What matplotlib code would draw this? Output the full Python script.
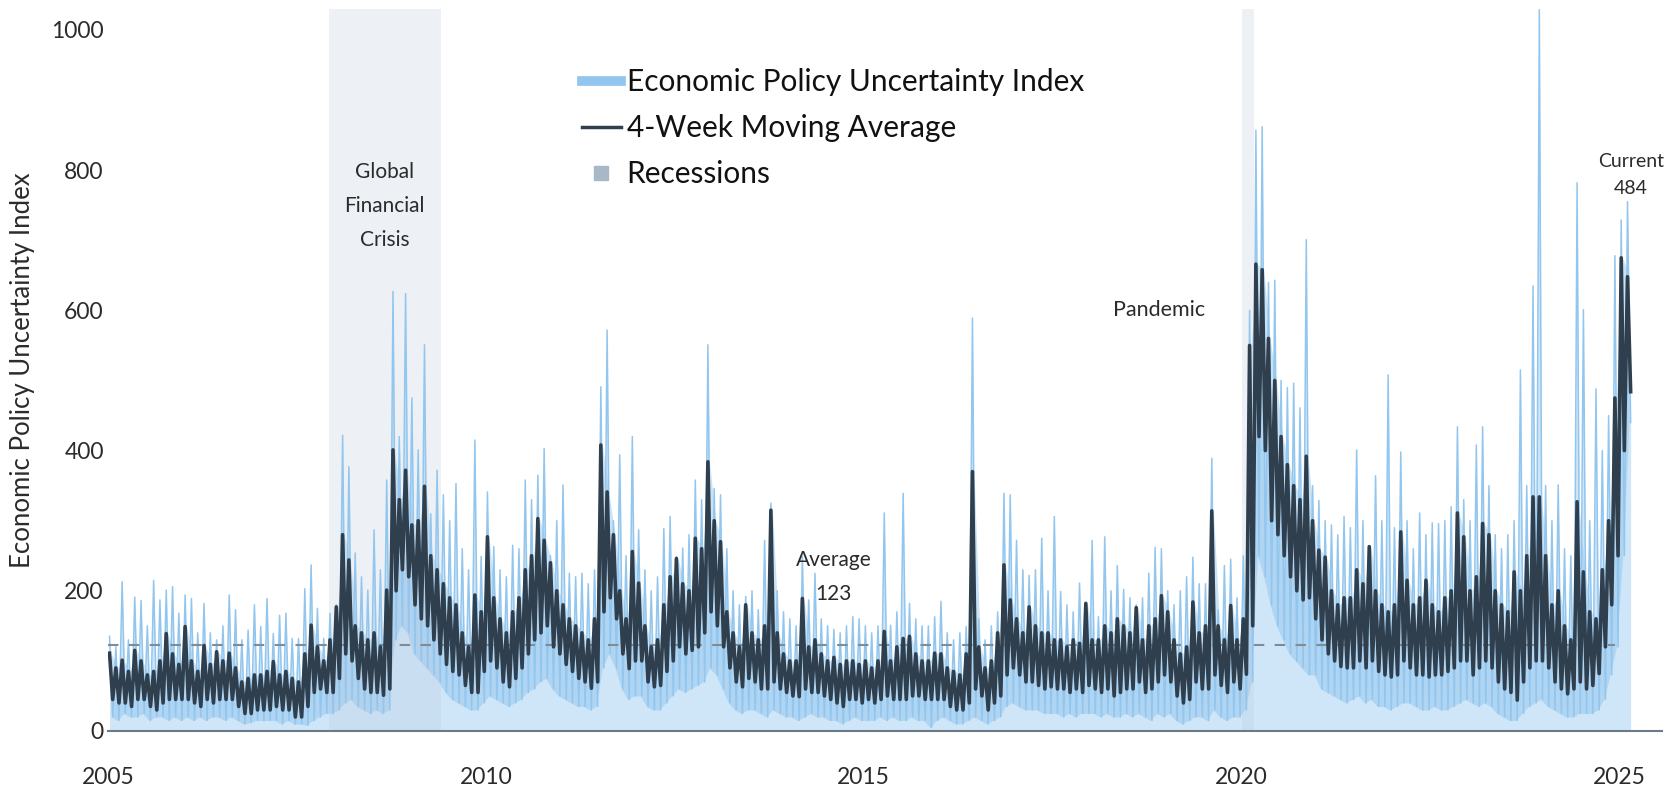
import numpy as np
import matplotlib.pyplot as plt
from matplotlib.lines import Line2D

plt.rcParams['font.family'] = ['Lato', 'DejaVu Sans']

start_year = 2005

# daily index, monthly high / low (Jan 2005 onward)
epu_high = [
    135, 120, 213, 130, 191, 186, 150, 215, 187, 201, 206, 168,  # 2005
    194, 189, 140, 182, 140, 130, 150, 194, 173, 130, 144, 180,  # 2006
    149, 189, 139, 165, 168, 132, 132, 203, 237, 175, 132, 168,  # 2007
    180, 422, 377, 254, 220, 201, 287, 230, 358, 627, 420, 624,  # 2008
    475, 401, 551, 310, 372, 337, 300, 353, 260, 230, 415, 249,  # 2009
    341, 263, 230, 220, 265, 260, 358, 330, 365, 403, 250, 300,  # 2010
    351, 225, 220, 225, 210, 230, 491, 572, 300, 394, 250, 420,  # 2011
    287, 230, 200, 220, 289, 306, 249, 261, 280, 358, 330, 551,  # 2012
    346, 337, 260, 200, 180, 192, 200, 173, 272, 325, 200, 170,  # 2013
    160, 150, 249, 187, 225, 160, 150, 145, 140, 150, 163, 160,  # 2014
    150, 140, 150, 311, 151, 170, 339, 182, 160, 150, 150, 163,  # 2015
    185, 140, 130, 140, 149, 589, 160, 130, 150, 170, 339, 337,  # 2016
    272, 230, 222, 230, 275, 200, 306, 199, 180, 170, 211, 180,  # 2017
    272, 163, 277, 200, 236, 202, 190, 180, 190, 225, 262, 260,  # 2018
    200, 180, 200, 220, 248, 210, 210, 389, 173, 236, 245, 190,  # 2019
    250, 600, 857, 862, 640, 643, 500, 490, 496, 461, 701, 350,  # 2020
    329, 300, 294, 280, 306, 290, 401, 300, 250, 364, 300, 508,  # 2021
    290, 398, 300, 260, 311, 280, 297, 296, 300, 320, 434, 330,  # 2022
    300, 408, 434, 350, 280, 260, 280, 300, 515, 350, 635, 1029,  # 2023
    350, 300, 351, 260, 250, 782, 601, 300, 488, 400, 450, 678,  # 2024
    729, 755,                                                    # 2025
]
epu_low = [
    20, 15, 25, 20, 20, 25, 15, 20, 20, 15, 20, 15,
    20, 15, 20, 15, 20, 20, 15, 20, 15, 10, 12, 15,
    15, 15, 15, 10, 15, 10, 10, 8, 15, 20, 25, 25,
    30, 40, 45, 35, 30, 25, 30, 25, 30, 130, 150, 140,
    110, 100, 90, 80, 70, 55, 45, 40, 35, 30, 30, 40,
    50, 45, 40, 35, 40, 45, 55, 60, 70, 75, 60, 50,
    45, 40, 35, 35, 30, 35, 90, 110, 90, 60, 45, 50,
    50, 35, 30, 30, 40, 50, 60, 55, 60, 65, 70, 90,
    80, 60, 40, 30, 25, 30, 30, 25, 20, 30, 25, 20,
    20, 15, 20, 25, 20, 20, 15, 15, 10, 15, 20, 15,
    15, 15, 20, 15, 20, 15, 15, 20, 15, 15, 5, 15,
    20, 15, 10, 10, 15, 20, 15, 10, 15, 20, 35, 40,
    35, 30, 30, 30, 25, 25, 25, 20, 25, 20, 25, 25,
    25, 20, 25, 20, 20, 25, 20, 25, 20, 15, 25, 20,
    25, 15, 10, 15, 20, 20, 15, 30, 20, 15, 20, 20,
    30, 70, 250, 220, 180, 150, 130, 110, 100, 90, 80, 80,
    60, 55, 50, 45, 40, 45, 50, 40, 45, 35, 35, 30,
    35, 40, 40, 35, 30, 30, 35, 30, 30, 35, 40, 45,
    40, 35, 40, 35, 25, 20, 15, 15, 25, 35, 40, 45,
    35, 30, 25, 20, 20, 25, 25, 25, 30, 45, 80, 120,
    250, 440,
]

# 4-week moving average, monthly high / low
ma_high = [
    111, 90, 101, 85, 115, 100, 80, 85, 100, 139, 110, 95,
    149, 100, 85, 122, 95, 113, 100, 111, 90, 70, 75, 80,
    80, 85, 99, 80, 85, 75, 70, 110, 151, 120, 100, 130,
    177, 280, 244, 150, 140, 130, 140, 120, 201, 401, 330, 372,
    294, 300, 349, 250, 230, 210, 190, 180, 140, 120, 194, 170,
    277, 190, 160, 140, 170, 190, 230, 250, 303, 272, 240, 200,
    180, 160, 150, 140, 130, 160, 408, 341, 280, 200, 160, 256,
    211, 150, 120, 130, 180, 220, 246, 210, 200, 275, 260, 384,
    300, 270, 170, 140, 120, 180, 140, 130, 150, 315, 140, 110,
    100, 100, 189, 120, 130, 110, 100, 105, 95, 100, 100, 95,
    100, 90, 100, 142, 100, 120, 132, 135, 110, 100, 100, 111,
    110, 90, 85, 80, 110, 370, 120, 90, 100, 140, 237, 187,
    160, 140, 177, 150, 140, 140, 130, 130, 120, 130, 125, 182,
    130, 130, 150, 140, 160, 150, 140, 176, 130, 150, 160, 193,
    170, 130, 110, 120, 184, 140, 150, 314, 150, 130, 179, 130,
    160, 550, 666, 658, 560, 500, 420, 380, 350, 330, 392, 300,
    258, 248, 200, 180, 190, 190, 230, 210, 263, 200, 180, 170,
    180, 284, 215, 180, 190, 215, 180, 170, 190, 200, 311, 277,
    200, 220, 296, 280, 200, 180, 170, 227, 200, 250, 334, 334,
    250, 180, 200, 150, 130, 327, 227, 170, 160, 230, 300, 475,
    675, 648,
]
ma_low = [
    45, 40, 40, 35, 45, 45, 35, 30, 40, 45, 45, 45,
    45, 40, 35, 45, 40, 45, 45, 45, 35, 25, 25, 30,
    30, 30, 35, 30, 30, 20, 20, 35, 55, 60, 55, 55,
    75, 110, 100, 75, 60, 55, 55, 51, 60, 200, 230, 220,
    180, 160, 150, 130, 110, 95, 85, 80, 65, 55, 55, 85,
    100, 90, 70, 63, 75, 90, 110, 130, 140, 150, 120, 110,
    95, 85, 75, 70, 61, 70, 170, 190, 160, 110, 89, 100,
    100, 70, 63, 65, 85, 100, 120, 110, 115, 120, 140, 170,
    150, 120, 90, 70, 63, 75, 70, 60, 60, 70, 60, 55,
    50, 49, 60, 55, 55, 50, 45, 40, 35, 45, 45, 40,
    45, 40, 45, 50, 45, 45, 45, 50, 50, 45, 45, 45,
    45, 35, 30, 30, 40, 60, 50, 30, 40, 50, 80, 90,
    80, 70, 70, 65, 60, 63, 60, 60, 55, 60, 55, 65,
    60, 55, 60, 50, 55, 60, 60, 70, 55, 60, 70, 80,
    70, 50, 40, 45, 70, 60, 60, 80, 65, 55, 70, 60,
    81, 150, 420, 400, 300, 280, 250, 220, 200, 187, 190, 160,
    130, 110, 100, 92, 90, 90, 100, 90, 100, 85, 80, 77,
    80, 100, 90, 80, 80, 77, 80, 80, 85, 90, 100, 100,
    80, 90, 100, 90, 70, 60, 55, 44, 70, 90, 100, 100,
    90, 70, 60, 53, 60, 70, 60, 65, 82, 120, 180, 250,
    400, 484,
]

average_value = 123
current_value = 484
recessions = [(2007.92, 2009.40), (2020.0, 2020.16)]
year_ticks = [2005, 2010, 2015, 2020, 2025]

light_blue = '#92c6ee'
fill_blue = '#cfe6f8'
dark_line = '#2f3f4e'
text_color = '#2b2b2b'


def zigzag(high, low):
    months = np.arange(len(high))
    t = np.column_stack([start_year + (months + 0.25) / 12,
                         start_year + (months + 0.75) / 12]).ravel()
    v = np.column_stack([high, low]).ravel()
    return t, v


x_epu, y_epu = zigzag(epu_high, epu_low)
x_ma, y_ma = zigzag(ma_high, ma_low)
month_mid = start_year + (np.arange(len(epu_high)) + 0.5) / 12

fig = plt.figure(figsize=(16.74, 7.93), dpi=100)
ax = fig.add_axes([0.0645, 0.0782, 0.9283, 0.9105])

ax.fill_between(x_epu, 0, y_epu, color=fill_blue, lw=0, zorder=1)
# dense band of daily readings around the moving average
ax.fill_between(month_mid, epu_low, ma_high, color=light_blue,
                alpha=0.5, lw=0, zorder=2)
for start, end in recessions:
    ax.axvspan(start, end, color='#b8c8dc', alpha=0.25, lw=0, zorder=2.5)
ax.plot(x_epu, y_epu, color=light_blue, lw=1.1, zorder=3)
ax.hlines(average_value, start_year, x_ma[-6], colors='#7f8b95',
          linestyles=(0, (5, 5)), lw=1.5, zorder=4)
ax.plot(x_ma, y_ma, color=dark_line, lw=2.6, zorder=5)

ax.set_xlim(start_year, 2025.56)
ax.set_ylim(0, 1030)
ax.set_xticks(year_ticks)
ax.set_xticklabels([str(y) for y in year_ticks])
ax.set_yticks(range(0, 1001, 200))
ax.tick_params(axis='both', length=0, labelsize=16.5, colors=text_color)
ax.tick_params(axis='x', pad=26)
ax.tick_params(axis='y', pad=3)
for side in ['top', 'right', 'left']:
    ax.spines[side].set_visible(False)
ax.spines['bottom'].set_color('#6b7a86')
ax.spines['bottom'].set_linewidth(1.5)
ax.set_ylabel('Economic Policy Uncertainty Index', fontsize=18.5,
              color=text_color, labelpad=12)

gfc_mid = (recessions[0][0] + recessions[0][1]) / 2
ax.text(gfc_mid, 749, 'Global\nFinancial\nCrisis', ha='center', va='center',
        fontsize=15, color=text_color, linespacing=1.9)
ax.text(recessions[1][0] - 0.48, 600, 'Pandemic', ha='right', va='center',
        fontsize=15.5, color=text_color)
ax.text(2014.6, 220, 'Average\n' + str(average_value), ha='center', va='center',
        fontsize=15, color=text_color, linespacing=1.9)
ax.text(x_ma[-1], 793, 'Current\n' + str(current_value), ha='center', va='center',
        fontsize=14, color=text_color, linespacing=1.7)

handles = [
    Line2D([], [], color=light_blue, lw=7),
    Line2D([], [], color=dark_line, lw=2.5),
    Line2D([], [], color='#a9b8c6', marker='s', markersize=10, lw=0),
]
labels = ['Economic Policy Uncertainty Index', '4-Week Moving Average', 'Recessions']
leg = ax.legend(handles, labels, loc='upper left', bbox_to_anchor=(0.305, 0.918),
                frameon=False, fontsize=21.5, handlelength=1.3, handletextpad=0.2,
                labelspacing=0.6, borderpad=0, borderaxespad=0)
for t in leg.get_texts():
    t.set_color('#111111')

fig.savefig('out.png', dpi=100)
